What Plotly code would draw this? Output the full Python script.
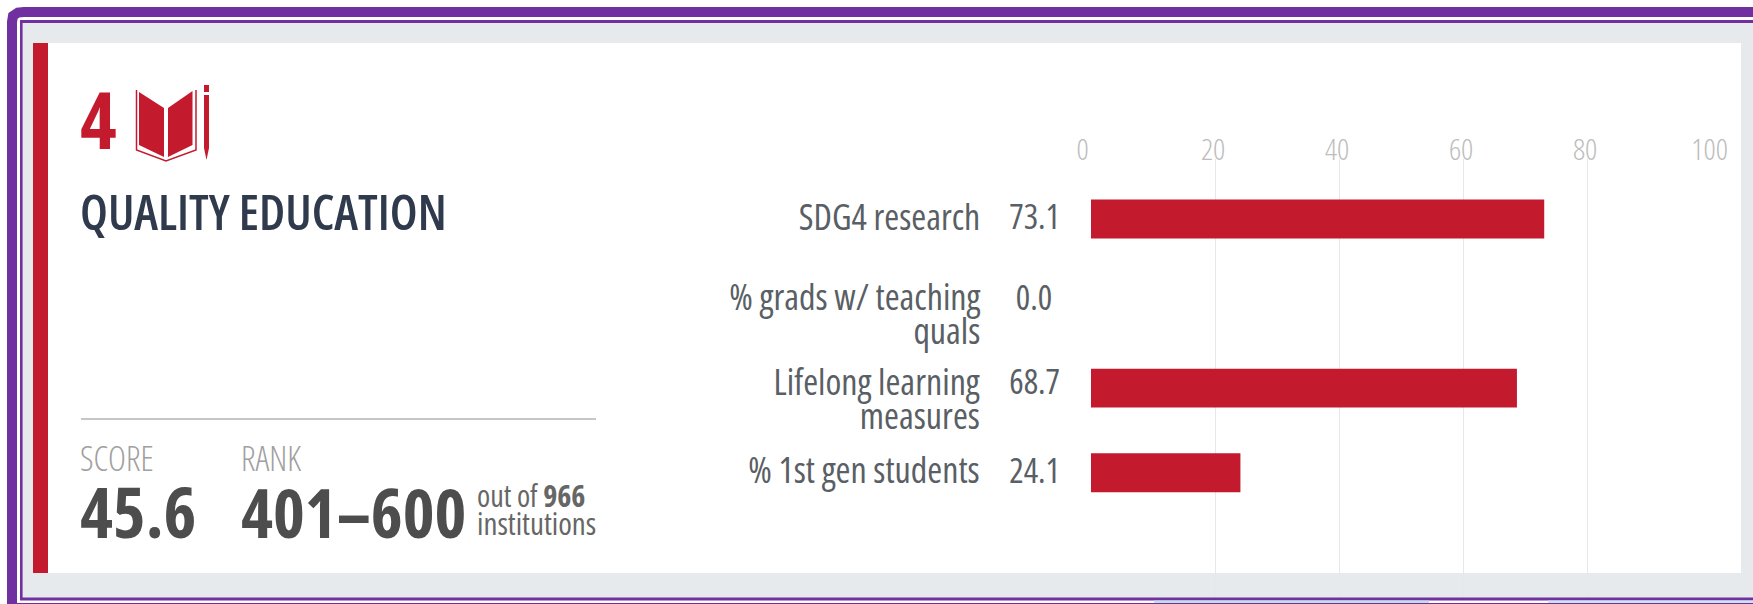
import plotly.graph_objects as go

W, H = 1753, 604

categories = ["SDG4 research", "% grads w/ teaching<br>quals", "Lifelong learning<br>measures", "% 1st gen students"]
values = [73.1, 0.0, 68.7, 24.1]
value_labels = ["73.1", "0.0", "68.7", "24.1"]
x_ticks = [0, 20, 40, 60, 80, 100]

RED = "#c41a2e"
PURPLE = "#7030a0"
GREY_BG = "#e7eaec"
FONT = "Open Sans"
LINE_STEP = 34


def px(x):
    return x / W


def py(y):
    return 1 - y / H


def rect(x0, y0, x1, y1, color):
    return dict(type="rect", xref="paper", yref="paper", x0=px(x0), x1=px(x1), y0=py(y0), y1=py(y1),
                fillcolor=color, line_width=0, layer="below")


def poly(points, color):
    # points are in page pixels, paths in paper coords
    d = "M" + " L".join(f"{px(x):.5f},{py(y):.5f}" for x, y in points) + " Z"
    return dict(type="path", xref="paper", yref="paper", path=d, fillcolor=color, line_width=0, layer="below")


def polyline(points, color, width):
    d = "M" + " L".join(f"{px(x):.5f},{py(y):.5f}" for x, y in points)
    return dict(type="path", xref="paper", yref="paper", path=d, line=dict(color=color, width=width), layer="below")


def label(x, y, text, size, color, weight=400):
    return dict(xref="paper", yref="paper", x=px(x), y=py(y), text=text, showarrow=False, xanchor="left",
                yanchor="middle", align="left",
                font=dict(family=FONT, size=size, color=color, weight=weight))


fig = go.Figure(
    go.Bar(x=values, y=categories, orientation="h", marker=dict(color=RED, line_width=0), width=0.46,
           hoverinfo="skip")
)

shapes = [
    # frame
    polyline([(12, 604), (12, 22), (13, 16), (18, 12.5), (24, 12), (1753, 12)], PURPLE, 10),
    rect(20, 20, 1753, 600.5, PURPLE),
    rect(22.6, 23, 1753, 597.5, GREY_BG),
    rect(1154, 600.5, 1429, 603, "#bfe0e6"),
    rect(1548, 600.5, 1753, 603, "#c8e6ee"),
    rect(17, 603, 1753, 604, PURPLE),
    # card
    rect(33, 43, 1741, 573, "#ffffff"),
    rect(33, 43, 48, 573, RED),
    rect(81, 418, 596, 420, "#c6c6c6"),
    # book icon
    poly([(139, 92), (164, 108), (164, 157), (139, 145)], RED),
    poly([(168, 108), (192.5, 91), (192.5, 145), (168, 157)], RED),
    polyline([(136.5, 90), (136.5, 150), (166, 161), (196, 150), (196, 90)], RED, 1.5),
    # pencil
    poly([(204, 95), (209, 95), (209, 148), (206.5, 160), (204, 148)], RED),
    poly([(204, 85), (209, 85), (209, 92), (204, 92)], RED),
]

annotations = [
    label(78, 119, "4", 78, RED, weight=700),
    label(78, 211, "QUALITY EDUCATION", 49, "#2f3a4d", weight=600),
    label(78, 458, "SCORE", 34, "#a0a0a0", weight=300),
    label(239, 458, "RANK", 34, "#a0a0a0", weight=300),
    label(78, 511, "45.6", 70, "#4d4d4d", weight=700),
    label(239, 511, "401–600", 68, "#4d4d4d", weight=700),
    label(475, 495, "out of <b>966</b>", 30, "#666666"),
    label(475, 523, "institutions", 31, "#666666"),
]

# first text line sits on the bar centre, wrapped lines hang below it
for cat, val in zip(categories, value_labels):
    lines = cat.split("<br>")
    lift = 7 if len(lines) > 1 else 3
    for i, line in enumerate(lines):
        annotations.append(dict(xref="paper", yref="y", x=px(982), y=cat, text=line, showarrow=False,
                                xanchor="right", yanchor="middle", align="right", yshift=lift - i * LINE_STEP,
                                font=dict(family=FONT, size=36, color="#5a5f66")))
    annotations.append(dict(xref="paper", yref="y", x=px(1034), y=cat, text=val, showarrow=False, xanchor="center",
                            yanchor="middle", yshift=lift, font=dict(family=FONT, size=34, color="#5a5f66")))

# axis numbers sit right on top of the grid, the 0 is pulled left of its line
for t in x_ticks:
    annotations.append(dict(xref="x", yref="paper", x=t, y=py(148), text=str(t), showarrow=False, xanchor="center",
                            yanchor="middle", xshift=-9 if t == 0 else -2,
                            font=dict(family=FONT, size=30, color="#bdbdbd", weight=300)))

fig.update_layout(
    width=W,
    height=H,
    margin=dict(l=0, r=0, t=0, b=0),
    paper_bgcolor="#ffffff",
    plot_bgcolor="rgba(0,0,0,0)",
    showlegend=False,
    shapes=shapes,
    annotations=annotations,
    xaxis=dict(
        domain=[px(1091), px(1711)],
        range=[0, 100],
        side="top",
        tickvals=x_ticks,
        showticklabels=False,
        showgrid=True,
        gridcolor="#e6e7e9",
        gridwidth=1,
        zeroline=False,
        showline=False,
        ticks="",
        automargin=False,
        anchor="y",
    ),
    yaxis=dict(
        domain=[py(597), py(159)],
        range=[4.47, -0.71],
        showticklabels=False,
        showgrid=False,
        zeroline=False,
        automargin=False,
        ticks="",
    ),
)

# the source screenshot is squeezed sideways, so ask for the condensed cut of the font
squeeze = """
document.body.style.margin = '0';
document.body.style.overflow = 'hidden';
var st = document.createElement('style');
st.textContent = 'svg text { font-stretch: 75%; }';
document.head.appendChild(st);
"""
fig.write_html("out.html", config={"displayModeBar": False}, post_script=squeeze)
